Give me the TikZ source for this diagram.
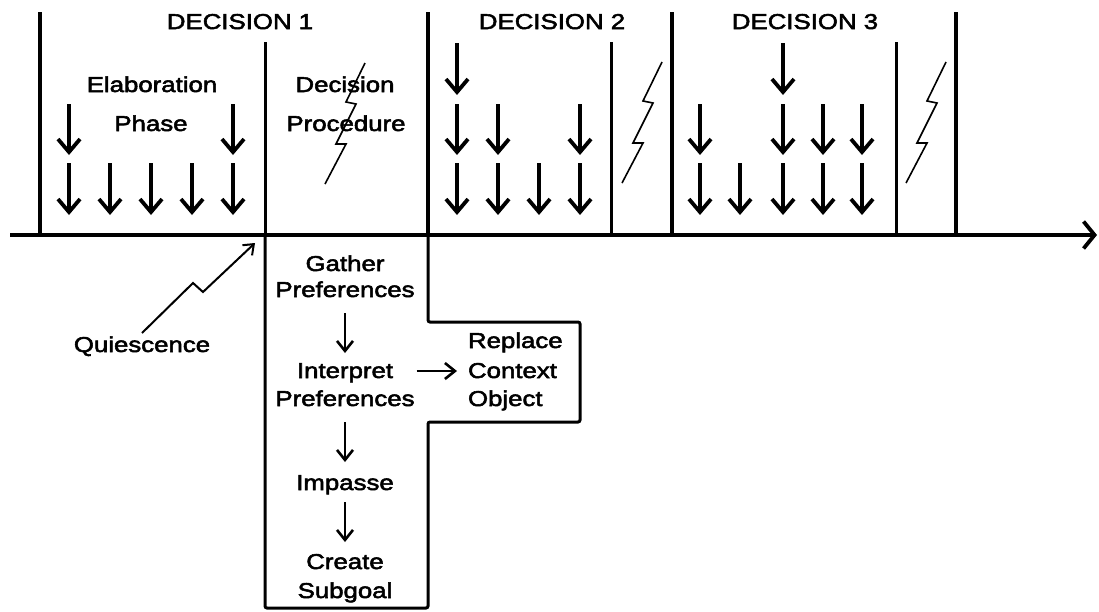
\documentclass[tikz,border=0pt]{standalone}
\usepackage{fontspec}
\setmainfont{Liberation Sans}[FakeStretch=1.2,FakeBold=2.5]
\usetikzlibrary{arrows.meta}
\begin{document}
\begin{tikzpicture}[x=1pt,y=-1pt,
  lbl/.style={font=\fontsize{21.5}{26}\selectfont, inner sep=0pt, outer sep=0pt, anchor=base},
  thickv/.style={line width=4.5pt},
  thinv/.style={line width=3pt},
  elab/.style={line width=4.5pt, -{Straight Barb[length=13pt,width=22pt,line width=3.8pt]}},
  bolt/.style={line width=1.6pt, line join=miter},
  boxline/.style={line width=3pt},
  boxarrow/.style={line width=2.8pt, -{Straight Barb[length=10pt,width=16pt,line width=2.6pt]}},
  qarrow/.style={line width=2pt, -{Straight Barb[length=9pt,width=14pt,line width=2pt]}},
]
\useasboundingbox (0,0) rectangle (1099,611);

% timeline
\coordinate (tl0) at (10,235);
\coordinate (tl1) at (1097,235);
\draw[line width=4.5pt, -{Straight Barb[length=11pt,width=27pt,line width=3.8pt]}] (tl0) -- (tl1);

% verticals
\foreach \x in {40,428,672,956} \draw[thickv] (\x,12) -- (\x,235);
\foreach \x in {265,611,896} \draw[thinv] (\x,42) -- (\x,235);

% elaboration arrows
\foreach \x in {457,783} \draw[elab] (\x,43) -- (\x,95);
\foreach \x in {69,233,457,498,580,700,783,823,862} \draw[elab] (\x,104) -- (\x,155);
\foreach \x in {69,110,151,192,233,457,498,539,580,700,740,783,823,862} \draw[elab] (\x,163) -- (\x,215);

% lightning bolts
\foreach \tx/\ty in {365/63, 662/62, 946/62}
  \draw[bolt] (\tx,\ty) -- ++(-19,39) -- ++(10,2) -- ++(-20,40) -- ++(10,0) -- ++(-21,40);

% decision procedure box
\draw[boxline, rounded corners=2pt] (265,235) -- (265,608) -- (428,608) -- (428,422) -- (580,422) -- (580,322) -- (428,322) -- (428,235);

% labels
\node[lbl] (d1) at (240,29) {DECISION 1};
\node[lbl] (d2) at (552,29) {DECISION 2};
\node[lbl] (d3) at (805,29) {DECISION 3};
\node[lbl] (elab1) at (152,92) {Elaboration};
\node[lbl] (elab2) at (151,131) {Phase};
\node[lbl] (dp1) at (345,92) {Decision};
\node[lbl] (dp2) at (346,131) {Procedure};
\node[lbl] (gath) at (345,271) {Gather};
\node[lbl] (gpref) at (345,297) {Preferences};
\node[lbl] (interp) at (345,378) {Interpret};
\node[lbl] (ipref) at (345,406) {Preferences};
\node[lbl] (imp) at (345,490) {Impasse};
\node[lbl] (create) at (345,569) {Create};
\node[lbl] (subg) at (345,598) {Subgoal};
\node[lbl, anchor=base west] (repl) at (468,348) {Replace};
\node[lbl, anchor=base west] (ctx) at (468,378) {Context};
\node[lbl, anchor=base west] (obj) at (468,406) {Object};
\node[lbl] (quies) at (142,352) {Quiescence};

% box arrows
\draw[boxarrow] ([yshift=-16pt]gpref.base) -- ([yshift=25pt]interp.base);
\draw[boxarrow] ([yshift=-16pt]ipref.base) -- ([yshift=28pt]imp.base);
\draw[boxarrow] ([yshift=-12pt]imp.base) -- ([yshift=27pt]create.base);
\coordinate (iarr) at (interp.base -| ipref.east);
\draw[boxarrow] ([shift={(2pt,7pt)}]iarr) -- ([shift={(-11pt,7pt)}]ctx.base west);

% quiescence
\coordinate (qtip) at (255,243);
\draw[qarrow] ([yshift=19pt]quies.base) -- (193,283) -- (203,292) -- (qtip);
\end{tikzpicture}
\end{document}
